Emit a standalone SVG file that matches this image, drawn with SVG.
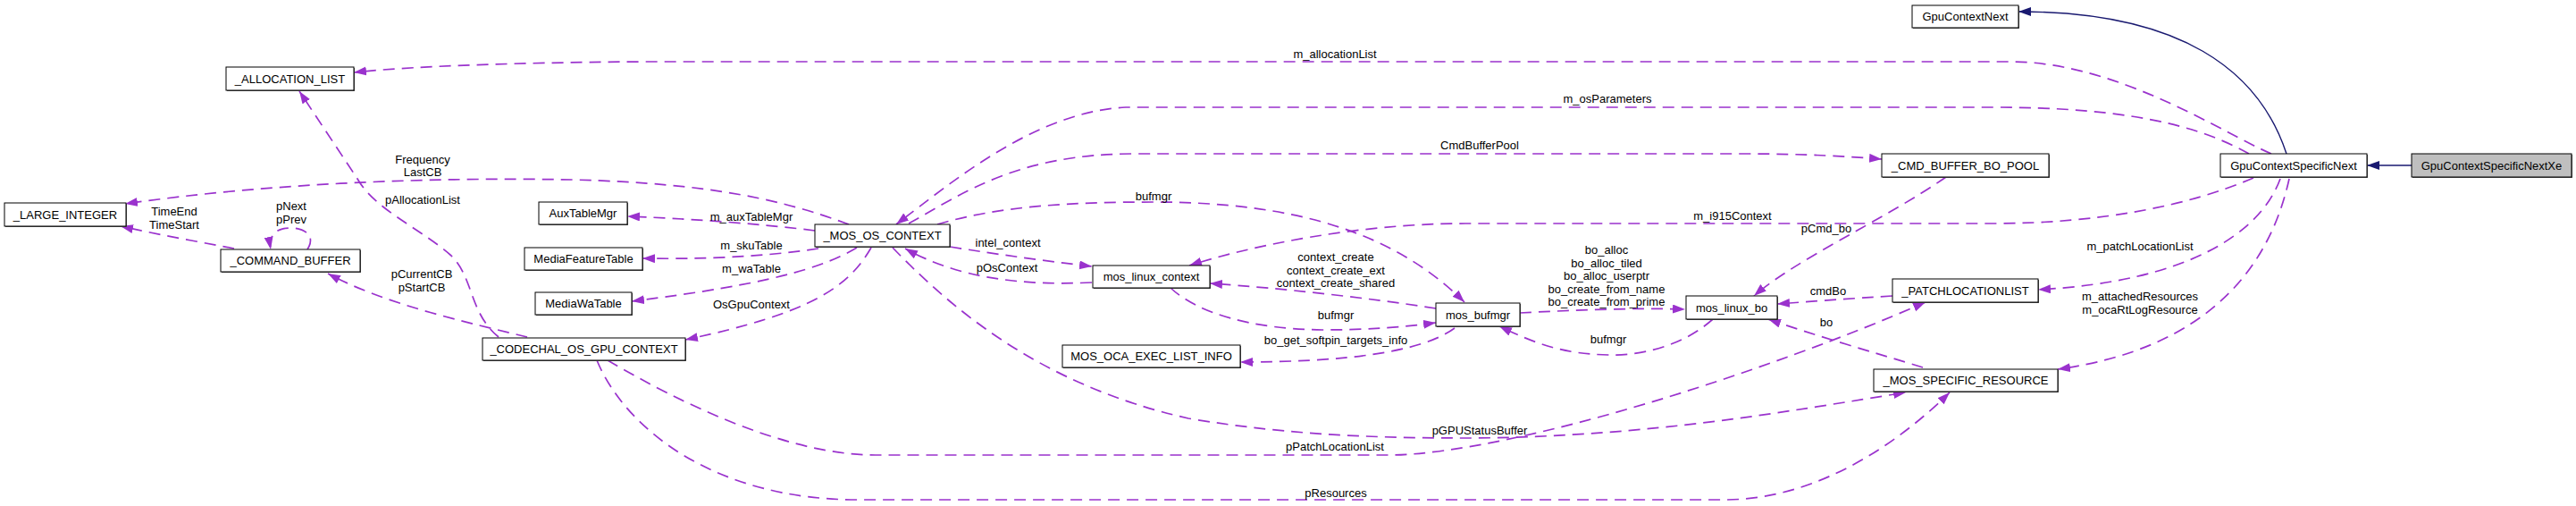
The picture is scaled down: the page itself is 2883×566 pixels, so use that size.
<svg xmlns="http://www.w3.org/2000/svg" width="2883" height="566" viewBox="0 0 2883 566">
<style>
.bx{fill:#fff;stroke:#000;stroke-width:1}
.sh{fill:#555}
.t{font-family:"Liberation Sans",Arial,Helvetica,sans-serif;font-size:13px;fill:#000;text-anchor:middle}
.e{fill:none;stroke:#9a32cd;stroke-width:1.7;stroke-dasharray:13,8;marker-end:url(#ap)}
.n{fill:none;stroke:#191970;stroke-width:1.4;marker-end:url(#an)}
</style>
<defs>
<marker id="ap" markerWidth="15" markerHeight="11" refX="14" refY="5" orient="auto" markerUnits="userSpaceOnUse"><path d="M0,0 L14,5 L0,10 z" fill="#9a32cd"/></marker>
<marker id="an" markerWidth="15" markerHeight="11" refX="14" refY="5" orient="auto" markerUnits="userSpaceOnUse"><path d="M0,0 L14,5 L0,10 z" fill="#191970"/></marker>
</defs>
<rect width="2883" height="566" fill="#fff"/>
<g id="connectors">
<path class="n" d="M2699,185 L2649,185"/>
<path class="n" d="M2559,172 C2528,78 2440,13 2259,13"/>
<path class="e" d="M2542,172 C2490,150 2370,69 2250,69 L720,69 C560,70 450,75 396,81"/>
<text class="t" x="1494" y="65">m_allocationList</text>
<path class="e" d="M2517,172 C2460,140 2380,120 2230,120 L1260,120 C1160,125 1070,200 1003,251"/>
<text class="t" x="1799" y="115">m_osParameters</text>
<path class="e" d="M1017,250 C1080,215 1140,172 1270,172 L1950,172 C2020,172 2070,175 2106,178"/>
<text class="t" x="1656" y="167">CmdBufferPool</text>
<path class="e" d="M2522,199 C2450,230 2350,250 2230,250 L1640,250 C1520,250 1400,275 1331,297"/>
<text class="t" x="1939" y="246">m_i915Context</text>
<path class="e" d="M2552,200 C2530,260 2450,315 2281,324"/>
<text class="t" x="2395" y="280">m_patchLocationList</text>
<path class="e" d="M2562,200 C2540,300 2470,390 2303,413"/>
<text class="t" x="2395" y="336">m_attachedResources</text>
<text class="t" x="2395" y="351">m_ocaRtLogResource</text>
<path class="e" d="M2178,198 C2110,245 2010,290 1963,331"/>
<text class="t" x="2044" y="260">pCmd_bo</text>
<path class="e" d="M2118,331 C2070,334 2030,337 1989,340"/>
<text class="t" x="2046" y="330">cmdBo</text>
<path class="e" d="M2152,411 C2100,395 2030,375 1979,357"/>
<text class="t" x="2044" y="365">bo</text>
<path class="e" d="M999,277 C1060,340 1160,430 1330,468 C1450,488 1550,490 1650,490 C1850,488 2000,460 2133,439"/>
<text class="t" x="1656" y="486">pGPUStatusBuffer</text>
<path class="e" d="M680,403 C760,450 880,509 980,509 L1560,509 C1700,505 1980,415 2155,338"/>
<text class="t" x="1494" y="504">pPatchLocationList</text>
<path class="e" d="M668,403 C700,480 800,559 960,559 L1930,559 C2030,559 2120,500 2182,439"/>
<text class="t" x="1495" y="556">pResources</text>
<path class="e" d="M950,251 C880,225 800,205 640,201 C480,198 300,205 140,228"/>
<text class="t" x="473" y="183">Frequency</text>
<text class="t" x="473" y="197">LastCB</text>
<path class="e" d="M912,258 C850,250 760,244 702,242"/>
<text class="t" x="841" y="247">m_auxTableMgr</text>
<path class="e" d="M916,278 C850,288 780,290 719,289"/>
<text class="t" x="841" y="279">m_skuTable</text>
<path class="e" d="M959,277 C920,300 860,318 707,337"/>
<text class="t" x="841" y="305">m_waTable</text>
<path class="e" d="M975,277 C950,320 910,350 767,380"/>
<text class="t" x="841" y="345">OsGpuContext</text>
<path class="e" d="M558,377 C525,350 530,310 505,286 C470,255 420,235 400,200 L335,102"/>
<text class="t" x="473" y="228">pAllocationList</text>
<path class="e" d="M590,377 C520,360 430,340 367,306"/>
<text class="t" x="472" y="311">pCurrentCB</text>
<text class="t" x="472" y="326">pStartCB</text>
<path class="e" d="M262,278 C220,270 175,262 135,253"/>
<text class="t" x="195" y="241">TimeEnd</text>
<text class="t" x="195" y="256">TimeStart</text>
<path class="e" d="M344,279 C355,262 338,255 325,255 C310,255 300,262 303,279"/>
<text class="t" x="326" y="235">pNext</text>
<text class="t" x="326" y="250">pPrev</text>
<path class="e" d="M1063,276 C1120,285 1170,292 1222,298"/>
<text class="t" x="1128" y="276">intel_context</text>
<path class="e" d="M1222,316 C1140,320 1070,310 1013,278"/>
<text class="t" x="1127" y="304">pOsContext</text>
<path class="e" d="M1049,251 C1120,230 1200,226 1290,226 C1450,226 1560,260 1639,338"/>
<text class="t" x="1291" y="224">bufmgr</text>
<path class="e" d="M1607,345 C1530,333 1430,322 1354,317"/>
<text class="t" x="1495" y="292">context_create</text>
<text class="t" x="1495" y="307">context_create_ext</text>
<text class="t" x="1495" y="321">context_create_shared</text>
<path class="e" d="M1310,322 C1340,350 1400,368 1480,369 C1530,369 1570,366 1607,361"/>
<text class="t" x="1495" y="357">bufmgr</text>
<path class="e" d="M1628,367 C1590,395 1500,405 1388,405"/>
<text class="t" x="1495" y="385">bo_get_softpin_targets_info</text>
<path class="e" d="M1701,350 C1760,347 1830,344 1886,346"/>
<text class="t" x="1798" y="284">bo_alloc</text>
<text class="t" x="1798" y="298.5">bo_alloc_tiled</text>
<text class="t" x="1798" y="313">bo_alloc_userptr</text>
<text class="t" x="1798" y="327.5">bo_create_from_name</text>
<text class="t" x="1798" y="342">bo_create_from_prime</text>
<path class="e" d="M1917,357 C1880,390 1830,398 1800,397 C1750,396 1720,385 1678,365"/>
<text class="t" x="1800" y="384">bufmgr</text>
</g>
<g id="n_alloc"><rect class="sh" x="254" y="76" width="143" height="26"/><rect class="bx" x="253" y="75" width="143" height="26"/><text class="t" x="324.5" y="92.5">_ALLOCATION_LIST</text></g>
<g id="n_large"><rect class="sh" x="6" y="228" width="136" height="26"/><rect class="bx" x="5" y="227" width="136" height="26"/><text class="t" x="73" y="244.5">_LARGE_INTEGER</text></g>
<g id="n_cmdbuf"><rect class="sh" x="248" y="280" width="156" height="25"/><rect class="bx" x="247" y="279" width="156" height="25"/><text class="t" x="325" y="296">_COMMAND_BUFFER</text></g>
<g id="n_aux"><rect class="sh" x="604" y="227" width="99" height="25"/><rect class="bx" x="603" y="226" width="99" height="25"/><text class="t" x="652.5" y="243">AuxTableMgr</text></g>
<g id="n_mft"><rect class="sh" x="588" y="278" width="132" height="25"/><rect class="bx" x="587" y="277" width="132" height="25"/><text class="t" x="653" y="294">MediaFeatureTable</text></g>
<g id="n_mwt"><rect class="sh" x="600" y="328" width="108" height="25"/><rect class="bx" x="599" y="327" width="108" height="25"/><text class="t" x="653" y="344">MediaWaTable</text></g>
<g id="n_codechal"><rect class="sh" x="541" y="379" width="227" height="25"/><rect class="bx" x="540" y="378" width="227" height="25"/><text class="t" x="653.5" y="395">_CODECHAL_OS_GPU_CONTEXT</text></g>
<g id="n_mosos"><rect class="sh" x="913" y="252" width="151" height="25"/><rect class="bx" x="912" y="251" width="151" height="25"/><text class="t" x="987.5" y="268">_MOS_OS_CONTEXT</text></g>
<g id="n_mlc"><rect class="sh" x="1224" y="298" width="131" height="25"/><rect class="bx" x="1223" y="297" width="131" height="25"/><text class="t" x="1288.5" y="314">mos_linux_context</text></g>
<g id="n_oca"><rect class="sh" x="1190" y="387" width="199" height="25"/><rect class="bx" x="1189" y="386" width="199" height="25"/><text class="t" x="1288.5" y="403">MOS_OCA_EXEC_LIST_INFO</text></g>
<g id="n_bufmgr"><rect class="sh" x="1608" y="340" width="94" height="26"/><rect class="bx" x="1607" y="339" width="94" height="26"/><text class="t" x="1654" y="356.5">mos_bufmgr</text></g>
<g id="n_mlbo"><rect class="sh" x="1888" y="332" width="102" height="26"/><rect class="bx" x="1887" y="331" width="102" height="26"/><text class="t" x="1938" y="348.5">mos_linux_bo</text></g>
<g id="n_cbpool"><rect class="sh" x="2107" y="173" width="187" height="26"/><rect class="bx" x="2106" y="172" width="187" height="26"/><text class="t" x="2199.5" y="189.5">_CMD_BUFFER_BO_POOL</text></g>
<g id="n_patch"><rect class="sh" x="2119" y="313" width="163" height="26"/><rect class="bx" x="2118" y="312" width="163" height="26"/><text class="t" x="2199.5" y="329.5">_PATCHLOCATIONLIST</text></g>
<g id="n_msr"><rect class="sh" x="2098" y="414" width="206" height="25"/><rect class="bx" x="2097" y="413" width="206" height="25"/><text class="t" x="2200" y="430">_MOS_SPECIFIC_RESOURCE</text></g>
<g id="n_gcn"><rect class="sh" x="2141" y="7" width="119" height="25"/><rect class="bx" x="2140" y="6" width="119" height="25"/><text class="t" x="2199.5" y="23">GpuContextNext</text></g>
<g id="n_gcsn"><rect class="sh" x="2486" y="173" width="164" height="26"/><rect class="bx" x="2485" y="172" width="164" height="26"/><text class="t" x="2567" y="189.5">GpuContextSpecificNext</text></g>
<g id="n_xe"><rect class="sh" x="2700" y="173" width="179" height="26"/><rect class="bx" x="2699" y="172" width="179" height="26" style="fill:#bfbfbf"/><text class="t" x="2788.5" y="189.5">GpuContextSpecificNextXe</text></g>
</svg>
